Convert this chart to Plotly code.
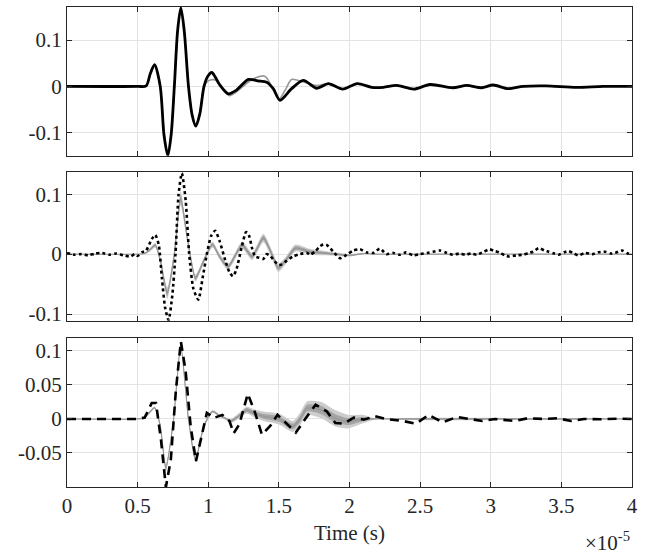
import plotly.graph_objects as go

# time in units of 1e-5 s
# ---------- Panel 1 (solid) ----------
p1_t = [0, 0.5, 0.56, 0.59, 0.62, 0.66, 0.687, 0.714, 0.737, 0.76, 0.783, 0.806, 0.83, 0.86,
        0.886, 0.912, 0.94, 0.97, 0.997, 1.025, 1.05, 1.08, 1.143, 1.2, 1.284, 1.35, 1.414, 1.46,
        1.508, 1.59, 1.673, 1.768, 1.85, 1.952, 2.055, 2.157, 2.24, 2.334, 2.456, 2.57, 2.73,
        2.83, 2.935, 3.017, 3.123, 3.23, 3.39, 3.607, 3.795, 4.0]
p1_v = [0, 0, 0.001, 0.028, 0.047, 0.0, -0.106, -0.15, -0.106, 0.0, 0.12, 0.17, 0.12, 0.0,
        -0.062, -0.086, -0.06, 0.0, 0.022, 0.030, 0.02, 0.004, -0.016, -0.008, 0.015, 0.012, 0.009, -0.005,
        -0.030, -0.005, 0.013, -0.004, 0.006, -0.006, 0.006, -0.002, -0.002, 0.002, -0.006, 0.004, -0.003,
        0.002, -0.003, 0.003, -0.005, 0.0, 0.001, -0.002, 0.0, 0.0]
p1_sim_t = [0, 0.5, 0.56, 0.59, 0.62, 0.66, 0.687, 0.714, 0.737, 0.76, 0.783, 0.806, 0.83, 0.86,
            0.886, 0.912, 0.94, 0.97, 1.0, 1.05, 1.1, 1.15, 1.2, 1.31, 1.40, 1.45, 1.50, 1.55,
            1.59, 1.67, 1.77, 1.85, 1.952, 2.055, 2.157, 2.24, 2.334, 2.456, 2.57, 2.73,
            2.83, 2.935, 3.017, 3.123, 3.23, 3.39, 3.607, 3.795, 4.0]
p1_sim_v = [0, 0, 0.001, 0.026, 0.044, 0.0, -0.1, -0.14, -0.1, 0.0, 0.118, 0.165, 0.118, 0.0,
            -0.06, -0.084, -0.058, 0.0, 0.012, 0.014, -0.005, -0.02, -0.012, 0.015, 0.022, 0.0, -0.028, -0.005,
            0.015, 0.01, 0.002, 0.006, -0.006, 0.006, -0.002, -0.002, 0.002, -0.006, 0.004, -0.003,
            0.002, -0.003, 0.003, -0.005, 0.0, 0.001, -0.002, 0.0, 0.0]

# ---------- Panel 2 (dotted, noisy) ----------
p2_t = [0.0, 0.05, 0.10, 0.15, 0.20, 0.25, 0.30, 0.35, 0.40, 0.45, 0.48, 0.50, 0.53, 0.56, 0.60,
        0.625, 0.65, 0.672, 0.695, 0.719, 0.745, 0.768, 0.79, 0.813, 0.84, 0.865, 0.895, 0.93,
        0.96, 0.99, 1.02, 1.049, 1.08, 1.12, 1.15, 1.175, 1.2, 1.235, 1.268, 1.29, 1.31, 1.332,
        1.36, 1.39, 1.414, 1.44, 1.47, 1.5, 1.52, 1.55, 1.6, 1.65, 1.7, 1.72, 1.76, 1.79, 1.815,
        1.84, 1.886, 1.933, 1.98, 2.027, 2.074, 2.12, 2.168, 2.215, 2.262, 2.31, 2.356, 2.4,
        2.45, 2.5, 2.55, 2.59, 2.64, 2.69, 2.73, 2.78, 2.82, 2.86, 2.9, 2.95, 2.99, 3.03, 3.06,
        3.1, 3.13, 3.18, 3.23, 3.27, 3.3, 3.34, 3.38, 3.41, 3.45, 3.48, 3.52, 3.55, 3.59, 3.62,
        3.67, 3.72, 3.76, 3.81, 3.85, 3.88, 3.93, 3.97, 4.0]
p2_v = [0.002, -0.001, 0.0, -0.002, 0.001, 0.002, -0.001, 0.001, -0.002, -0.004, 0.0, -0.003,
        0.003, 0.006, 0.025, 0.032, 0.015, -0.04, -0.09, -0.11, -0.07, 0.0, 0.1, 0.135, 0.09,
        0.0, -0.058, -0.076, -0.04, 0.0, 0.03, 0.039, 0.022, -0.01, -0.03, -0.037, -0.025, 0.01,
        0.037, 0.03, 0.01, -0.004, -0.006, -0.008, 0.0, -0.003, -0.012, -0.018, -0.017, -0.012,
        -0.004, 0.0, 0.002, -0.001, 0.005, 0.013, 0.016, 0.015, 0.004, -0.007, -0.001, 0.006,
        0.008, 0.003, 0.002, 0.009, 0.0, 0.002, -0.001, 0.003, -0.002, 0.0, 0.002, 0.004, 0.006,
        0.002, -0.001, 0.001, -0.001, 0.001, -0.001, 0.004, 0.008, 0.005, 0.003, -0.002, -0.004,
        -0.002, -0.001, 0.002, 0.004, 0.010, 0.006, 0.004, 0.001, -0.001, 0.003, 0.005, 0.001,
        -0.002, 0.002, 0.0, 0.003, 0.004, 0.001, 0.002, 0.006, 0.001, 0.0]
p2_sim_t = [0, 0.5, 0.55, 0.59, 0.625, 0.66, 0.71, 0.76, 0.805, 0.85, 0.91, 0.97, 1.03, 1.08,
            1.14, 1.24, 1.31, 1.39, 1.45, 1.496, 1.55, 1.617, 1.72, 1.81, 1.9, 2.0, 2.1, 2.2, 4.0]
p2_sim_v = [0, 0, 0.001, 0.008, 0.015, -0.01, -0.065, 0.0, 0.093, 0.03, -0.04, -0.01, 0.016, -0.004,
            -0.021, 0.015, -0.004, 0.027, 0.0, -0.023, -0.01, 0.010, 0.004, 0.002, 0.0, -0.002, 0.001, 0.0, 0]
p2_sim_out = [0, 0, 0.001, 0.003, 0.004, 0.005, 0.01, 0.008, 0.012, 0.008, 0.006, 0.005, 0.005, 0.005,
              0.005, 0.006, 0.006, 0.007, 0.007, 0.007, 0.006, 0.006, 0.005, 0.004, 0.003, 0.002, 0.001, 0, 0]
p2_sim_in = [0, 0, 0.0005, 0.0015, 0.002, 0.0025, 0.005, 0.004, 0.006, 0.004, 0.003, 0.0025, 0.0025, 0.0025,
             0.0025, 0.003, 0.003, 0.0035, 0.0035, 0.0035, 0.003, 0.003, 0.0025, 0.002, 0.0015, 0.001, 0.0005, 0, 0]

# ---------- Panel 3 (dashed) ----------
p3_t = [0, 0.5, 0.55, 0.6, 0.63, 0.665, 0.70, 0.735, 0.77, 0.806, 0.84, 0.875, 0.913, 0.95,
        0.99, 1.04, 1.1, 1.15, 1.18, 1.22, 1.28, 1.33, 1.38, 1.44, 1.49, 1.54, 1.62, 1.69, 1.76,
        1.84, 1.9, 1.96, 2.03, 2.1, 2.18, 2.26, 2.38, 2.47, 2.56, 2.66, 2.76, 2.85, 2.94, 3.03,
        3.17, 3.26, 3.38, 3.47, 3.57, 3.66, 3.78, 3.9, 4.0]
p3_v = [0, 0.0, 0.002, 0.0235, 0.0235, -0.03, -0.1, -0.06, 0.04, 0.114, 0.07, -0.01, -0.062, -0.03,
        0.009, 0.0015, 0.006, -0.003, -0.021, -0.008, 0.037, 0.01, -0.023, -0.01, 0.006, -0.004, -0.02,
        0.001, 0.021, 0.011, -0.006, -0.007, 0.002, -0.001, 0.004, 0.0, -0.003, -0.007, 0.006, -0.005,
        0.003, 0.0, -0.003, 0.0, -0.003, 0.001, 0.0, 0.001, -0.003, 0.0, -0.0005, 0.0005, 0.0]
p3_sim_t = [0, 0.5, 0.55, 0.62, 0.66, 0.70, 0.755, 0.805, 0.86, 0.91, 0.97, 1.03, 1.08, 1.13, 1.16,
            1.22, 1.27, 1.33, 1.39, 1.5, 1.6, 1.65, 1.7, 1.8, 1.9, 1.99, 2.1, 2.2, 4.0]
p3_sim_v = [0, 0.0, 0.002, 0.0165, -0.01, -0.072, 0.0, 0.108, 0.0, -0.06, -0.01, 0.011, 0.005, 0.0, -0.003,
            0.005, 0.013, 0.008, 0.004, 0.0, -0.011, 0.0, 0.016, 0.013, 0.001, -0.004, 0.0, 0.0, 0]
p3_sim_out = [0, 0, 0.001, 0.002, 0.004, 0.006, 0.004, 0.004, 0.004, 0.004, 0.003, 0.002, 0.002, 0.002, 0.003,
              0.004, 0.005, 0.006, 0.007, 0.008, 0.008, 0.009, 0.01, 0.012, 0.012, 0.01, 0.006, 0, 0]
p3_sim_in = [0, 0, 0.0005, 0.001, 0.002, 0.003, 0.002, 0.002, 0.002, 0.002, 0.0015, 0.001, 0.001, 0.001, 0.0015,
             0.002, 0.003, 0.003, 0.0035, 0.004, 0.004, 0.0045, 0.005, 0.006, 0.006, 0.005, 0.003, 0, 0]

x_ticks = [0, 0.5, 1, 1.5, 2, 2.5, 3, 3.5, 4]
x_ticktext = ["0", "0.5", "1", "1.5", "2", "2.5", "3", "3.5", "4"]
p1_yticks = [-0.1, 0, 0.1]
p1_yticktext = ["-0.1", "0", "0.1"]
p2_yticks = [-0.1, 0, 0.1]
p2_yticktext = ["-0.1", "0", "0.1"]
p3_yticks = [-0.05, 0, 0.05, 0.1]
p3_yticktext = ["-0.05", "0", "0.05", "0.1"]

FONT = "Liberation Serif, Times New Roman, serif"
FS = 21
AX = "#262626"
GRID = "#e3e3e3"
BAND_OUT = "rgb(205,205,205)"
BAND_IN = "rgb(165,165,165)"
SIM = "rgb(150,150,150)"

fig = go.Figure()


def band(t, mid, spread, color, xa, ya):
    up = [m + s for m, s in zip(mid, spread)]
    lo = [m - s for m, s in zip(mid, spread)]
    fig.add_trace(go.Scatter(x=list(t) + list(t[::-1]), y=up + lo[::-1], fill="toself",
                             fillcolor=color, line=dict(width=0, color=color, shape="spline", smoothing=0.6),
                             mode="lines", hoverinfo="skip", showlegend=False, xaxis=xa, yaxis=ya))


# Panel 1 (top)
fig.add_trace(go.Scatter(x=p1_sim_t, y=p1_sim_v, mode="lines",
                         line=dict(color=SIM, width=1.6, shape="spline", smoothing=0.8),
                         showlegend=False, xaxis="x", yaxis="y"))
fig.add_trace(go.Scatter(x=p1_t, y=p1_v, mode="lines",
                         line=dict(color="black", width=2.8, shape="spline", smoothing=0.8),
                         showlegend=False, xaxis="x", yaxis="y"))

# Panel 2 (middle)
band(p2_sim_t, p2_sim_v, p2_sim_out, BAND_OUT, "x2", "y2")
band(p2_sim_t, p2_sim_v, p2_sim_in, BAND_IN, "x2", "y2")
fig.add_trace(go.Scatter(x=p2_sim_t, y=p2_sim_v, mode="lines",
                         line=dict(color=SIM, width=1.2, shape="spline", smoothing=0.6),
                         showlegend=False, xaxis="x2", yaxis="y2"))
fig.add_trace(go.Scatter(x=p2_t, y=p2_v, mode="lines",
                         line=dict(color="black", width=2.6, dash="dot", shape="spline", smoothing=0.6),
                         showlegend=False, xaxis="x2", yaxis="y2"))

# Panel 3 (bottom)
band(p3_sim_t, p3_sim_v, p3_sim_out, BAND_OUT, "x3", "y3")
band(p3_sim_t, p3_sim_v, p3_sim_in, BAND_IN, "x3", "y3")
fig.add_trace(go.Scatter(x=p3_sim_t, y=p3_sim_v, mode="lines",
                         line=dict(color=SIM, width=1.2, shape="spline", smoothing=0.6),
                         showlegend=False, xaxis="x3", yaxis="y3"))
fig.add_trace(go.Scatter(x=p3_t, y=p3_v, mode="lines",
                         line=dict(color="black", width=2.6, dash="9px,6px"),
                         showlegend=False, xaxis="x3", yaxis="y3"))

xcommon = dict(range=[0, 4], tickvals=x_ticks, ticktext=x_ticktext, ticks="inside", ticklen=5,
               tickcolor=AX, showline=True, linecolor=AX, linewidth=1, mirror="ticks",
               showgrid=True, gridcolor=GRID, gridwidth=1, zeroline=False,
               tickfont=dict(family=FONT, size=FS, color=AX))
ycommon = dict(ticks="inside", ticklen=5, tickcolor=AX, showline=True, linecolor=AX, linewidth=1,
               mirror="ticks", showgrid=True, gridcolor=GRID, gridwidth=1, zeroline=False,
               tickfont=dict(family=FONT, size=FS, color=AX))

fig.update_layout(
    width=652, height=554,
    margin=dict(l=67, r=20, t=7, b=67, pad=0),
    paper_bgcolor="white", plot_bgcolor="white",
    font=dict(family=FONT, size=FS, color=AX),
    xaxis=dict(xcommon, domain=[0, 1], anchor="y", showticklabels=False),
    xaxis2=dict(xcommon, domain=[0, 1], anchor="y2", showticklabels=False, matches="x"),
    xaxis3=dict(xcommon, domain=[0, 1], anchor="y3", showticklabels=True, matches="x",
                title=dict(text="Time (s)", font=dict(family=FONT, size=FS, color=AX), standoff=8)),
    yaxis=dict(ycommon, domain=[0.690, 1.0], range=[-0.15, 0.1715], tickvals=p1_yticks,
               ticktext=p1_yticktext, anchor="x"),
    yaxis2=dict(ycommon, domain=[0.3465, 0.6563], range=[-0.111, 0.137], tickvals=p2_yticks,
                ticktext=p2_yticktext, anchor="x2"),
    yaxis3=dict(ycommon, domain=[0.0, 0.3104], range=[-0.1, 0.119], tickvals=p3_yticks,
                ticktext=p3_yticktext, anchor="x3"),
    annotations=[dict(text="×10<sup>-5</sup>", xref="paper", yref="paper", x=1.0, y=-0.113,
                      xanchor="right", yanchor="middle", showarrow=False,
                      font=dict(family=FONT, size=FS, color=AX))],
)

fig.write_html("out.html", config={"displayModeBar": False},
               post_script="document.body.style.margin='0';document.body.style.padding='0';")
